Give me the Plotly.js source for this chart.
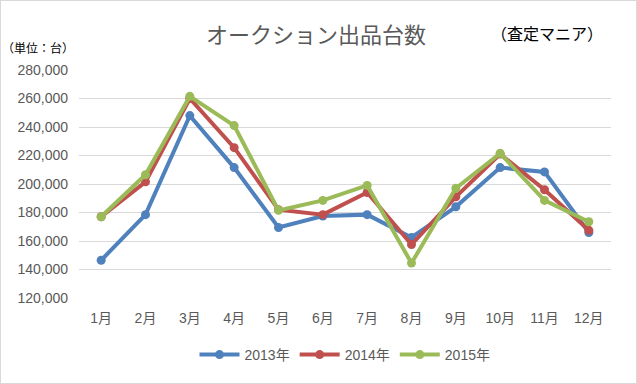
<!DOCTYPE html>
<html><head><meta charset="utf-8">
<script src="https://cdn.plot.ly/plotly-3.0.1.min.js"></script>
<style>html,body{margin:0;padding:0;background:#fff}#wrap{width:637px;height:384px;box-sizing:border-box;border:1px solid #d9d9d9;position:relative;overflow:hidden}#chart{position:absolute;left:-1px;top:-1px}</style>
</head><body><div id="wrap"><div id="chart"></div></div>
<script>
const months = ["1月","2月","3月","4月","5月","6月","7月","8月","9月","10月","11月","12月"];
const s2013 = [146500,178500,248000,211500,169500,177500,178500,162500,184000,211500,208500,166000];
const s2014 = [177000,201500,260000,225500,182000,178500,194000,157500,191000,221000,196000,167500];
const s2015 = [177000,206500,261500,241000,181500,188500,199000,144500,197000,221500,188500,173500];
const names = ["2013年","2014年","2015年"];
const colors = ["#4F81BD","#C0504D","#9BBB59"];
const font = "'Liberation Sans','Noto Sans CJK JP',sans-serif";
const series = [s2013,s2014,s2015];
const traces = series.map((v,i)=>({x:months,y:v,name:names[i],type:"scatter",mode:"lines+markers",
  line:{color:colors[i],width:4},marker:{color:colors[i],size:9}}));
const layout = {
  width:637,height:384,margin:{l:79,r:26,t:70,b:86},
  paper_bgcolor:"#fff",plot_bgcolor:"#fff",
  font:{family:font,color:"#595959",size:14},
  showlegend:true,
  legend:{orientation:"h",x:0.5,xanchor:"center",y:-0.25,yanchor:"middle",font:{size:14,color:"#595959"},itemwidth:40},
  xaxis:{type:"category",range:[-0.5,11.5],showgrid:false,showline:false,zeroline:false,ticks:"",ticklabelstandoff:10,tickfont:{size:14,color:"#595959"}},
  yaxis:{range:[120000,280000],dtick:20000,tickformat:",d",showgrid:true,gridcolor:"#d9d9d9",gridwidth:1,zeroline:false,showline:false,ticks:"",ticklabelstandoff:10,tickfont:{size:14,color:"#595959"}},
  annotations:[
    {text:"オークション出品台数",xref:"paper",yref:"paper",x:(316-79)/532,y:(298-33)/228,xanchor:"center",yanchor:"middle",showarrow:false,font:{family:"'Noto Sans CJK JP',sans-serif",size:22,color:"#595959"}},
    {text:"（査定マニア）",xref:"paper",yref:"paper",x:(547-79)/532,y:(298-33)/228,xanchor:"center",yanchor:"middle",showarrow:false,font:{family:"'Noto Sans CJK JP',sans-serif",size:16,color:"#000"}},
    {text:"（単位：台）",xref:"paper",yref:"paper",x:(38-79)/532,y:(298-47)/228,xanchor:"center",yanchor:"middle",showarrow:false,font:{family:"'Noto Sans CJK JP',sans-serif",size:12,color:"#000"}}
  ]
};
Plotly.newPlot("chart",traces,layout,{displayModeBar:false,staticPlot:true});
</script></body></html>
